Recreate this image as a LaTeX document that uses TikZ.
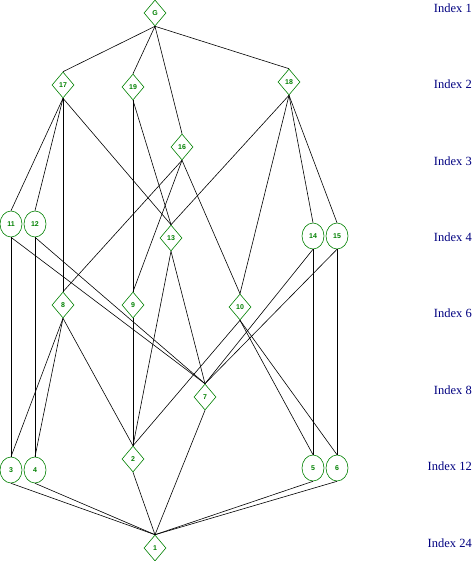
\documentclass[tikz,border=0pt]{standalone}
\usepackage{fontspec}
\setmainfont{Liberation Serif}
\newfontfamily\numfont{Liberation Sans}
\usetikzlibrary{shapes.geometric}
\definecolor{lattgreen}{RGB}{0,128,0}
\definecolor{idxblue}{RGB}{0,0,128}

\begin{document}
\begin{tikzpicture}[x=1pt,y=-1pt,
  sub/.style={draw=lattgreen,text=lattgreen,line width=0.6pt,inner sep=0pt,
    minimum width=22pt,minimum height=26pt,font=\numfont\bfseries\fontsize{7}{8}\selectfont},
  dsub/.style={sub,diamond},
  csub/.style={sub,ellipse},
  idx/.style={text=idxblue,anchor=east,inner sep=0pt,font=\fontsize{12.5}{14}\selectfont},
  edge/.style={line width=0.6pt}]
  \useasboundingbox (0,0) rectangle (472,561);
  % index levels on the right
  \foreach \k/\i in {0/1,1/2,2/3,3/4,4/6,5/8,6/12,7/24}
    \node[idx] (idx\i) at (472,{8+76.43*\k}) {Index \i};
  % subgroups, top to bottom
  \node[dsub] (g) at (155,13) {G};
  \node[dsub] (n17) at (63,85) {17};
  \node[dsub] (n19) at (133,87) {19};
  \node[dsub] (n18) at (289,82) {18};
  \node[dsub] (n16) at (182,147) {16};
  \node[csub] (n11) at (11,224) {11};
  \node[csub] (n12) at (35,224) {12};
  \node[dsub] (n13) at (171,238) {13};
  \node[csub] (n14) at (313,236) {14};
  \node[csub] (n15) at (337,236) {15};
  \node[dsub] (n8) at (63,305) {8};
  \node[dsub] (n9) at (133,305) {9};
  \node[dsub] (n10) at (240,307) {10};
  \node[dsub] (n7) at (205,397) {7};
  \node[csub] (n3) at (11,470) {3};
  \node[csub] (n4) at (35,470) {4};
  \node[dsub] (n2) at (133,459) {2};
  \node[csub] (n5) at (313,468) {5};
  \node[csub] (n6) at (337,468) {6};
  \node[dsub] (n1) at (155,548) {1};
  % inclusions
  \foreach \a/\b in {g/n17,g/n19,g/n16,g/n18,
      n17/n11,n17/n12,n17/n8,n17/n13,n19/n9,n19/n13,
      n18/n13,n18/n10,n18/n14,n18/n15,n16/n8,n16/n9,n16/n10,
      n11/n3,n11/n7,n12/n4,n12/n7,n13/n2,n13/n7,n14/n5,n14/n7,n15/n6,n15/n7,
      n8/n3,n8/n4,n8/n2,n9/n2,n10/n2,n10/n5,n10/n6,
      n7/n1,n3/n1,n4/n1,n2/n1,n5/n1,n6/n1}
    \draw[edge] (\a.south) -- (\b.north);
\end{tikzpicture}
\end{document}
